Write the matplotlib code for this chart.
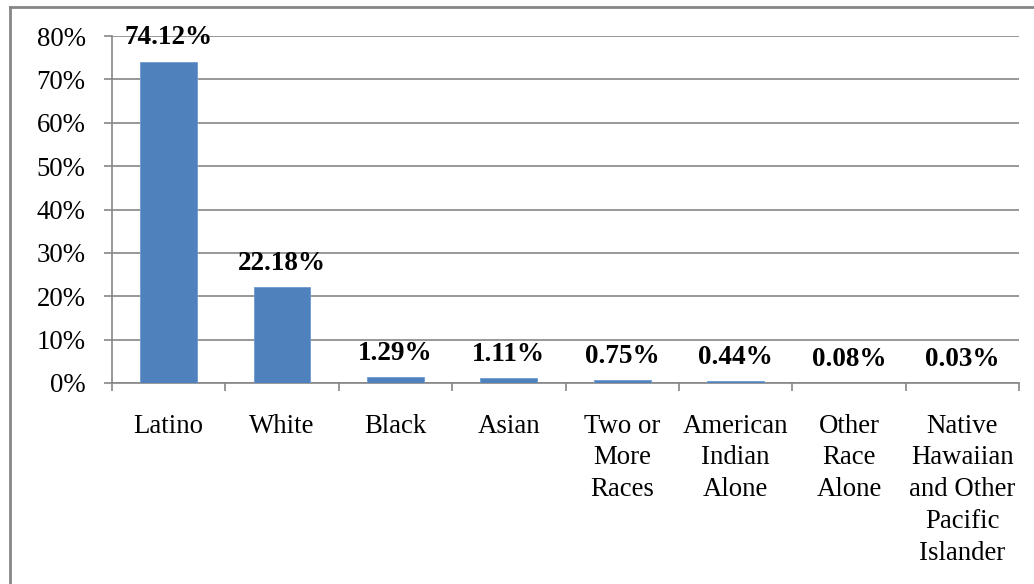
import numpy as np
import matplotlib.pyplot as plt
from matplotlib.lines import Line2D

# data
groups = ['Latino', 'White', 'Black', 'Asian', 'Two or\nMore\nRaces',
          'American\nIndian\nAlone', 'Other\nRace\nAlone',
          'Native\nHawaiian\nand Other\nPacific\nIslander']
shares = [74.12, 22.18, 1.29, 1.11, 0.75, 0.44, 0.08, 0.03]
yticks = [0, 10, 20, 30, 40, 50, 60, 70, 80]

plt.rcParams['font.family'] = ['Liberation Serif', 'DejaVu Serif']
grey = '#868686'

W, H = 1034, 584
fig = plt.figure(figsize=(W / 100, H / 100), dpi=100)
ax = fig.add_axes([112 / W, (H - 383) / H, (1019 - 112) / W, (383 - 36) / H])

x = np.arange(len(groups))
ax.bar(x, shares, width=0.5, color='#4F81BD', edgecolor='#6F9AD0', linewidth=0.6, zorder=3)

for xi, v in zip(x, shares):
    ax.annotate('%.2f%%' % v, (xi, v), xytext=(0, 17), textcoords='offset points',
                ha='center', va='center', fontsize=19.5, fontweight='bold', zorder=4)

ax.set_xlim(-0.5, len(groups) - 0.5)
ax.set_ylim(0, 80)
ax.set_yticks(yticks)
ax.set_yticklabels(['%d%%' % t for t in yticks])
ax.yaxis.grid(True, color=grey, linewidth=1.2, zorder=0)

ax.set_xticks(x)
ax.set_xticklabels(groups, linespacing=1.36)
ax.set_xticks(np.arange(len(groups) + 1) - 0.5, minor=True)
ax.tick_params(axis='x', which='major', length=0, pad=22, labelsize=19.3)
ax.tick_params(axis='x', which='minor', length=6, width=1.2, color=grey)
ax.tick_params(axis='y', length=6, width=1.2, color=grey, pad=13, labelsize=19.3)

for s in ['top', 'right']:
    ax.spines[s].set_visible(False)
for s in ['left', 'bottom']:
    ax.spines[s].set_color(grey)
    ax.spines[s].set_linewidth(1.2)

# chart frame (top and left edges visible)
fig.add_artist(Line2D([10 / W, 1], [1 - 7 / H, 1 - 7 / H], color=grey, linewidth=2))
fig.add_artist(Line2D([10 / W, 10 / W], [0, 1 - 7 / H], color=grey, linewidth=2))

fig.savefig('out.png', dpi=100)
